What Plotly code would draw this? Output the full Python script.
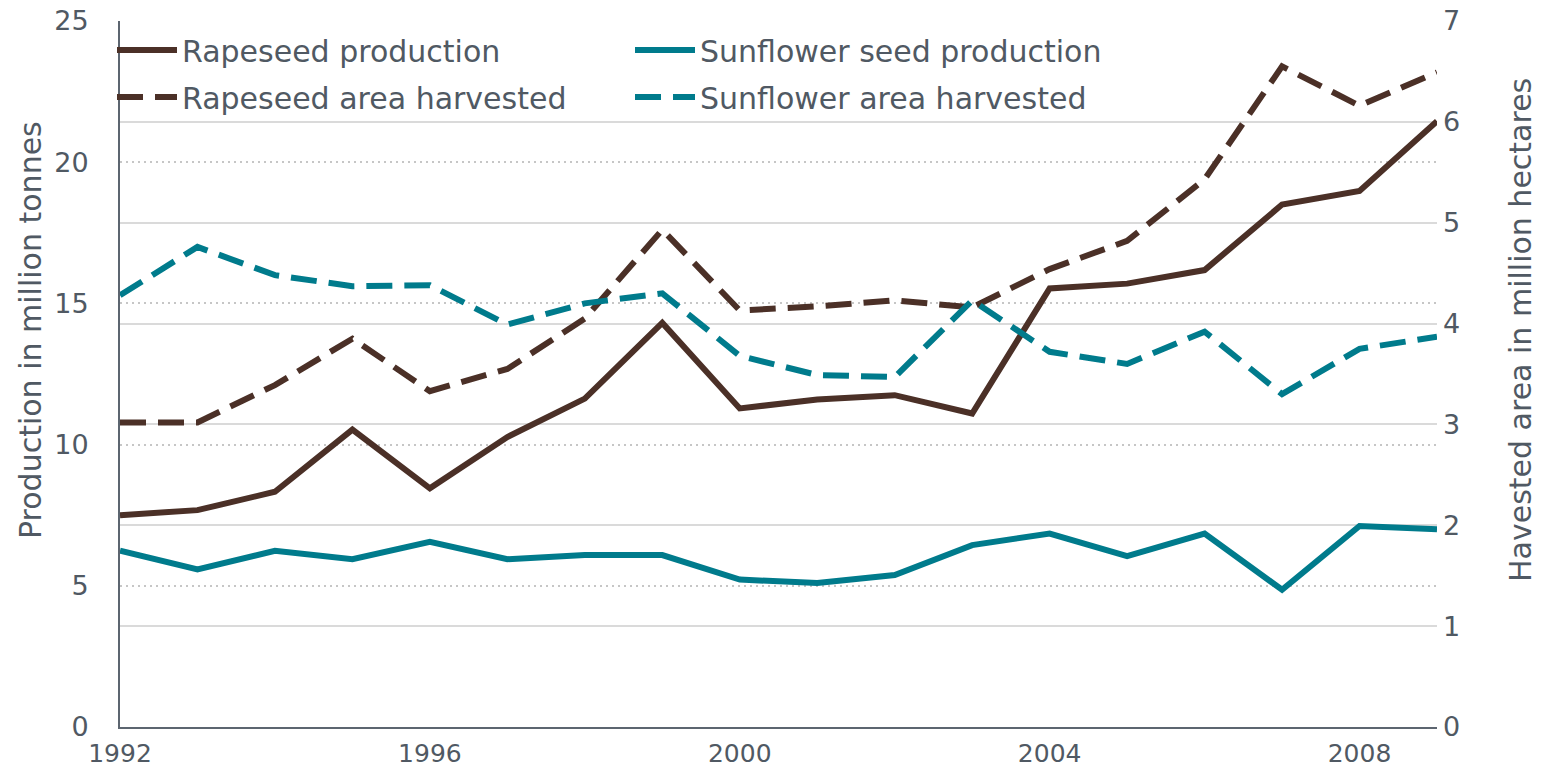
import plotly.graph_objects as go

years = list(range(1992, 2010))
rapeseed_production = [7.5, 7.68, 8.33, 10.53, 8.45, 10.27, 11.63, 14.31, 11.28, 11.6, 11.75, 11.1,
                       15.53, 15.7, 16.18, 18.5, 18.98, 21.45]
sunflower_production = [6.24, 5.58, 6.24, 5.94, 6.56, 5.94, 6.09, 6.09, 5.22, 5.1, 5.38, 6.44,
                         6.85, 6.05, 6.85, 4.86, 7.12, 7.0]
rapeseed_area = [3.02, 3.02, 3.39, 3.85, 3.33, 3.55, 4.05, 4.93, 4.13, 4.17, 4.23, 4.16,
                 4.54, 4.82, 5.43, 6.55, 6.16, 6.49]
sunflower_area = [4.28, 4.76, 4.48, 4.37, 4.38, 3.99, 4.2, 4.3, 3.68, 3.49, 3.47, 4.23,
                  3.72, 3.6, 3.92, 3.3, 3.75, 3.87]

x_ticks = [1992, 1996, 2000, 2004, 2008]
left_ticks = [0, 5, 10, 15, 20, 25]
right_ticks = [0, 1, 2, 3, 4, 5, 6, 7]

BROWN = "#4b3027"
TEAL = "#007b8c"
TEXT = "#505963"
FONT = "DejaVu Sans"
DASH = "26px,12px"

fig = go.Figure()
fig.add_trace(go.Scatter(x=years, y=rapeseed_production, mode="lines", name="Rapeseed production",
                         line=dict(color=BROWN, width=6), yaxis="y", legend="legend"))
fig.add_trace(go.Scatter(x=years, y=sunflower_production, mode="lines", name="Sunflower seed production",
                         line=dict(color=TEAL, width=6), yaxis="y", legend="legend2"))
fig.add_trace(go.Scatter(x=years, y=rapeseed_area, mode="lines", name="Rapeseed area harvested",
                         line=dict(color=BROWN, width=6, dash=DASH), yaxis="y2", legend="legend3"))
fig.add_trace(go.Scatter(x=years, y=sunflower_area, mode="lines", name="Sunflower area harvested",
                         line=dict(color=TEAL, width=6, dash=DASH), yaxis="y2", legend="legend4"))

leg_common = dict(font=dict(family=FONT, size=30, color=TEXT), bgcolor="rgba(0,0,0,0)",
                  itemwidth=60, xanchor="left", yanchor="middle", xref="paper", yref="paper",
                  borderwidth=0)

L, R, T, B = 120, 109, 21, 45

def ypaper(py):
    return (772 - B - py) / (772 - B - T)

def xpaper(px):
    return (px - L) / (1546 - L - R)

fig.update_layout(
    width=1546, height=772,
    margin=dict(l=L, r=R, t=T, b=B, autoexpand=False),
    paper_bgcolor="white", plot_bgcolor="white",
    font=dict(family=FONT, color=TEXT),
    showlegend=True,
    legend=dict(x=xpaper(112), y=ypaper(50), **leg_common),
    legend2=dict(x=xpaper(630), y=ypaper(50), **leg_common),
    legend3=dict(x=xpaper(112), y=ypaper(97), **leg_common),
    legend4=dict(x=xpaper(630), y=ypaper(97), **leg_common),
    xaxis=dict(range=[1992, 2009], tickvals=x_ticks, ticktext=[str(v) for v in x_ticks],
               showgrid=False, zeroline=False, showline=True, linecolor="#5c6570", linewidth=2,
               ticks="", tickfont=dict(family=FONT, size=25, color=TEXT), ticklabelstandoff=3,
               automargin=False),
    yaxis=dict(range=[0, 25], tickvals=left_ticks, ticktext=[str(v) for v in left_ticks],
               showgrid=True, gridcolor="#c6c6c6", gridwidth=2, griddash="2px,4px",
               zeroline=False, showline=True, linecolor="#5c6570", linewidth=2,
               ticks="", tickfont=dict(family=FONT, size=27, color=TEXT), ticklabelstandoff=24,
               automargin=False),
    yaxis2=dict(range=[0, 7], tickvals=right_ticks, ticktext=[str(v) for v in right_ticks],
                overlaying="y", side="right", showgrid=True, gridcolor="#dadada", gridwidth=1.5,
                zeroline=False, showline=False, ticks="",
                tickfont=dict(family=FONT, size=27, color=TEXT), ticklabelstandoff=5,
                automargin=False),
    annotations=[
        dict(text="Production in million tonnes", textangle=-90, xref="paper", yref="paper",
             x=xpaper(30), y=ypaper(330), xanchor="center", yanchor="middle", showarrow=False,
             font=dict(family=FONT, size=30, color=TEXT)),
        dict(text="Havested area in million hectares", textangle=-90, xref="paper", yref="paper",
             x=xpaper(1520), y=ypaper(330), xanchor="center", yanchor="middle", showarrow=False,
             font=dict(family=FONT, size=30, color=TEXT)),
    ],
)

fig.write_html("out.html", config={"displayModeBar": False},
               post_script="document.body.style.margin='0';document.body.style.overflow='hidden';")
